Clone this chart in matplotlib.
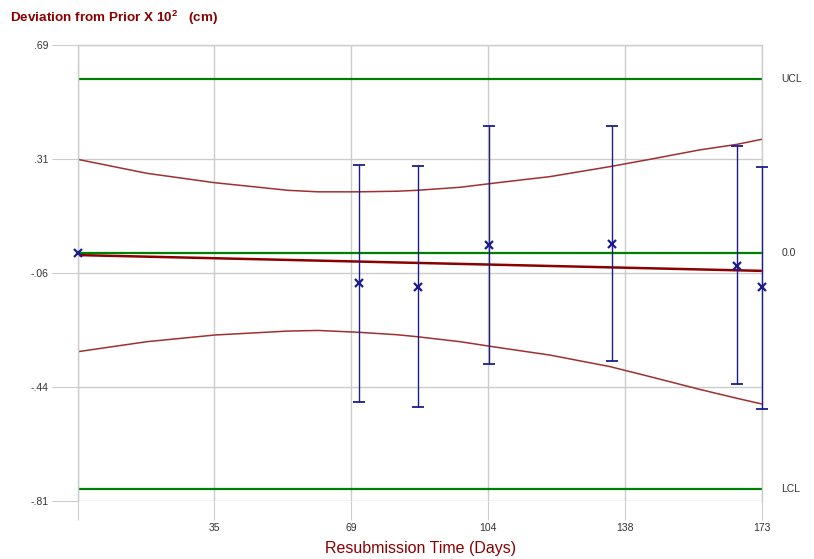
import matplotlib
matplotlib.use("Agg")
import matplotlib.pyplot as plt
import matplotlib.transforms as mtransforms

plt.rcParams['font.family'] = ['Liberation Sans', 'DejaVu Sans']
plt.rcParams['mathtext.fontset'] = 'custom'
plt.rcParams['mathtext.bf'] = 'Liberation Sans:bold'
plt.rcParams['mathtext.rm'] = 'Liberation Sans'

# control limits
ucl = 0.578
center = 0.005
lcl = -0.77

# regression line (start / end)
reg_days = [0, 173]
reg_vals = [-0.001, -0.053]

# confidence band
band_days = [0, 17.5, 34.7, 53.2, 60.8, 71.0, 80.7, 85.8, 96.7, 106.8, 119.4, 134.6, 144.7, 157.3, 166.6, 173]
band_upper = [0.314, 0.268, 0.237, 0.212, 0.207, 0.207, 0.209, 0.212, 0.222, 0.238, 0.257, 0.290, 0.314, 0.345, 0.363, 0.380]
band_lower = [-0.319, -0.286, -0.264, -0.251, -0.249, -0.255, -0.263, -0.2695, -0.286, -0.306, -0.330, -0.368, -0.401, -0.443, -0.472, -0.491]

# observations with error bars
obs_days = [0, 71.1, 86.0, 104.1, 135.0, 166.7, 173]
obs_vals = [0.005, -0.094, -0.105, 0.032, 0.035, -0.036, -0.107]
obs_top = [None, 0.296, 0.291, 0.424, 0.424, 0.359, 0.288]
obs_bottom = [None, -0.485, -0.501, -0.360, -0.349, -0.425, -0.506]

xticks = [0, 34.6, 69.2, 103.8, 138.4, 173]
xlabels = ['', '35', '69', '104', '138', '173']
yticks = [0.69, 0.315, -0.06, -0.435, -0.81]
ylabels = ['.69', '.31', '-.06', '-.44', '-.81']

fig = plt.figure(figsize=(8.14, 5.59), dpi=100)
ax = fig.add_axes([77.5/814, 58/559, 684.5/814, 456/559])

grid_col = '#cccccc'
navy = '#1c1c8c'
dark_red = '#8b0000'

ax.axhline(ucl, color='#008000', lw=1.6)
ax.axhline(center, color='#008000', lw=1.6)
ax.axhline(lcl, color='#008000', lw=1.6)

ax.plot(band_days, band_upper, color='#a03030', lw=1.1)
ax.plot(band_days, band_lower, color='#a03030', lw=1.1)
ax.plot(reg_days, reg_vals, color=dark_red, lw=1.8)

for d, v, t, b in zip(obs_days, obs_vals, obs_top, obs_bottom):
    if t is not None:
        ax.errorbar(d, v, yerr=[[v - b], [t - v]], fmt='none', ecolor=navy,
                    elinewidth=1.0, capsize=4, capthick=1.3, clip_on=False, zorder=4)
    ax.plot(d, v, marker='x', color=navy, ms=6, mew=1.6, ls='none', clip_on=False, zorder=5)

ax.set_xlim(0, 173)
ax.set_ylim(-0.81, 0.69)
ax.set_xticks(xticks)
ax.set_xticklabels(xlabels)
ax.set_yticks(yticks)
ax.set_yticklabels(ylabels)
ax.grid(True, color=grid_col, lw=1)
ax.set_axisbelow(True)
for s in ax.spines.values():
    s.set_color(grid_col)
    s.set_linewidth(1)
ax.spines['bottom'].set_visible(False)
ax.tick_params(axis='x', length=14, color=grid_col, labelsize=7.5, labelcolor='#333333', pad=2)
ax.tick_params(axis='y', length=19, color=grid_col, labelsize=7.5, labelcolor='#333333', pad=2)

# right side labels
trans = mtransforms.blended_transform_factory(ax.transAxes, ax.transData)
for val, lab in [(ucl, 'UCL'), (center, '0.0'), (lcl, 'LCL')]:
    ax.text(1.028, val, lab, transform=trans, ha='left', va='center',
            fontsize=7.5, color='#333333')

fig.text(10/814, 1 - 18/559, r'Deviation from Prior X 10$^\mathbf{2}$   (cm)',
         color=dark_red, fontsize=9.7, fontweight='bold', ha='left', va='center')
fig.text(421/814, 1 - 549/559, 'Resubmission Time (Days)', color=dark_red,
         fontsize=11.5, ha='center', va='center')

fig.savefig('out.png', dpi=100)
